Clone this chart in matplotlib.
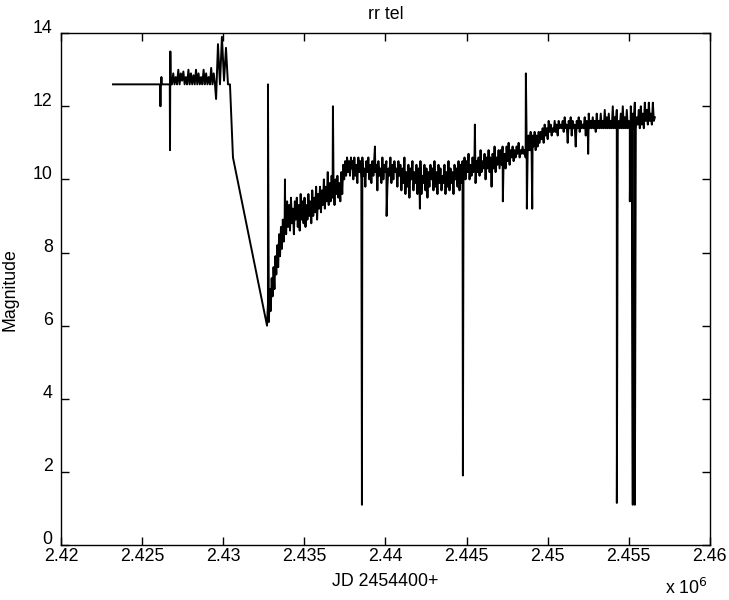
import numpy as np
import matplotlib.pyplot as plt
from matplotlib.transforms import ScaledTranslation

plt.rcParams['font.family'] = ['Liberation Sans', 'DejaVu Sans']

JD0 = 2.42e6

# ---- light curve of rr tel (days after 2.42e6, magnitude) ----
# early flat part, sparse points
early_jd = [3205, 6100, 6130, 6160, 6190, 6220, 6690, 6705, 6720, 6740, 6760]
early_mag = [12.6, 12.6, 12.0, 12.6, 12.8, 12.6, 12.6, 12.6, 10.8, 13.5, 12.6]

# noisy plateau before the fade (6841 .. 9492)
plateau_mag = [12.6, 12.9, 12.6, 12.8, 12.6, 13.0, 12.6, 12.9, 12.7, 12.95,
               12.6, 12.8, 12.6, 13.0, 12.6, 12.9, 12.6, 12.85, 12.6, 13.0,
               12.6, 12.9, 12.6, 12.8, 12.6, 13.0, 12.6, 12.9, 12.6, 12.8,
               12.6, 13.05, 12.6, 12.9, 12.6]

# flare and the fade down to minimum
fade_jd = [9560, 9676, 9800, 9920, 10050, 10170, 10293, 10416, 10601, 12696]
fade_mag = [12.2, 13.7, 12.6, 13.9, 12.7, 13.6, 12.6, 12.6, 10.6, 6.0]

# recovery from minimum (12700 .. 13806)
rise_mag = [6.0, 6.6, 6.1, 7.0, 6.4, 7.3, 6.8, 7.6, 7.0, 7.9,
            7.4, 8.2, 7.6, 8.5, 7.9, 8.7, 8.1, 8.9, 8.3, 9.0]

# slow brightening (13806 .. 17935)
slow_mag = [9.2, 8.5, 9.4, 8.7, 9.3, 8.6, 9.5, 8.8, 9.2, 8.5,
            9.4, 8.9, 9.5, 8.7, 9.3, 8.6, 9.6, 8.9, 9.4, 8.8,
            9.5, 8.7, 9.3, 8.9, 9.6, 9.0, 9.4, 8.8, 9.7, 9.0,
            9.5, 9.1, 9.8, 8.9, 9.6, 9.2, 9.8, 9.1, 9.7, 9.3,
            10.0, 9.2, 9.8, 9.4, 10.2, 9.3, 9.9, 9.4, 10.1, 9.5,
            9.9, 9.3, 10.0, 9.6, 10.1, 9.5, 9.9, 9.4, 10.2, 9.6,
            10.4, 10.0, 10.5, 10.1, 10.6, 10.2, 10.5, 10.1, 10.6, 10.3]

# long plateau (17935 .. 36610)
late_mag = [10.5, 10.0, 10.6, 10.1, 10.4, 9.9, 10.6, 10.2, 10.5, 10.0,
            10.6, 10.1, 10.3, 9.8, 10.5, 10.2, 10.6, 10.0, 10.4, 9.9,
            10.5, 10.1, 10.6, 10.2, 10.4, 9.7, 10.5, 10.1, 10.3, 9.9,
            10.6, 10.0, 10.4, 10.2, 10.5, 9.8, 10.3, 10.1, 10.6, 9.9,
            10.4, 10.0, 10.5, 10.2, 10.3, 9.8, 10.5, 10.1,
            10.4, 9.7, 10.3, 9.9, 10.6, 9.6, 10.2, 9.8, 10.4, 9.5,
            10.3, 10.0, 10.5, 9.7, 10.2, 9.9, 10.4, 9.6, 10.3, 9.8,
            10.5, 9.6, 10.1, 9.9, 10.4, 9.7, 10.3, 9.5, 10.2, 9.8,
            10.4, 10.0, 10.3, 9.7, 10.5, 9.8, 10.2, 9.6, 10.4, 9.9,
            10.3, 9.7, 10.1, 9.9, 10.4, 9.6, 10.2, 9.8, 10.5, 9.7,
            10.3, 9.9, 10.2, 9.6, 10.4, 10.0, 10.3, 9.8, 10.5, 9.7,
            10.4, 9.9, 10.5, 10.1, 10.6, 10.0, 10.5, 10.2, 10.7, 10.0,
            10.4, 10.1, 10.6, 10.2, 10.7, 9.9, 10.5, 10.2, 10.6, 10.1,
            10.8, 10.2, 10.5, 10.3, 10.7, 10.0, 10.6, 10.3, 10.8, 10.2,
            10.6, 9.8, 10.7, 10.3, 10.9, 10.2, 10.6, 10.4, 10.8, 10.3,
            10.8, 10.4, 10.9, 10.5, 10.7, 10.3, 10.9, 10.5, 11.0, 10.4,
            10.8, 10.6, 10.9, 10.5, 10.8, 10.6, 10.9, 10.7, 11.0, 10.6,
            10.8, 10.7, 10.9, 10.7, 10.8, 10.6, 11.1, 10.7, 11.2, 10.8,
            11.3, 10.7, 11.2, 10.9, 11.3, 10.8, 11.2, 10.9, 11.3, 11.0,
            11.3, 11.1, 11.4, 11.0, 11.5, 11.2, 11.4, 11.1, 11.6, 11.3,
            11.5, 11.2, 11.4, 11.3, 11.6, 11.3, 11.5, 11.2, 11.6, 11.4,
            11.5, 11.4, 11.6, 11.3, 11.7, 11.4, 11.5, 11.0, 11.6, 11.4,
            11.7, 11.2, 11.6, 11.4, 11.5, 10.9, 11.6, 11.4, 11.7, 11.3,
            11.6, 11.4, 11.5, 11.4, 11.7, 11.2, 11.6, 11.4, 11.8, 11.4,
            11.6, 11.4, 11.7, 11.4, 11.6, 11.3, 11.8, 11.4, 11.6, 11.4,
            11.8, 11.4, 11.6, 11.4, 11.9, 11.4, 11.7, 11.4, 11.8, 11.4,
            11.6, 11.4, 12.0, 11.4, 11.7, 11.4, 11.9, 11.4, 11.6, 11.4,
            11.8, 11.4, 12.0, 11.4, 11.7, 11.4, 11.9, 11.4, 11.6, 11.5,
            12.0, 11.4, 11.8, 11.4, 12.1, 11.4, 11.7, 11.5, 11.9, 11.4,
            12.0, 11.5, 11.8, 11.4, 12.1, 11.6, 11.9, 11.5, 12.1, 11.6,
            11.8, 11.5, 12.1, 11.6, 11.7]

# single outlying measurements
spike_jd = [12758, 13806, 16764, 18552, 19353, 20074, 22126, 24777, 25516,
            27240, 28659, 28720, 29050, 32500, 34268, 35069, 35250, 35380]
spike_mag = [12.6, 10.0, 12.0, 1.1, 10.9, 9.0, 9.2, 1.9, 11.5,
             9.4, 12.9, 9.2, 9.2, 10.7, 1.15, 9.4, 1.1, 1.1]

jd = np.concatenate([early_jd,
                     np.linspace(6841, 9492, len(plateau_mag)),
                     fade_jd,
                     np.linspace(12700, 13790, len(rise_mag)),
                     np.linspace(13820, 17935, len(slow_mag)),
                     np.linspace(17960, 36610, len(late_mag)),
                     spike_jd])
mag = np.concatenate([early_mag, plateau_mag, fade_mag, rise_mag,
                      slow_mag, late_mag, spike_mag])
order = np.argsort(jd, kind='stable')
jd = jd[order] + JD0
mag = mag[order]

fig = plt.figure(figsize=(7.29, 6.0), dpi=100)
ax = fig.add_axes([0.0837, 0.0917, 0.890, 0.853])
ax.plot(jd, mag, color='k', lw=1.4)

ax.set_xlim(2.42e6, 2.46e6)
ax.set_ylim(0, 14)
ax.set_xticks(np.arange(2.42e6, 2.4601e6, 5000))
ax.set_xticklabels(['2.42', '2.425', '2.43', '2.435', '2.44', '2.445',
                    '2.45', '2.455', '2.46'])
ax.set_yticks(range(0, 15, 2))
ax.tick_params(direction='in', top=True, right=True, length=5.5,
               width=1, labelsize=12.8)
ax.tick_params(axis='x', pad=2)
ax.tick_params(axis='y', pad=6)
for s in ax.spines.values():
    s.set_linewidth(1)
# matlab puts the y labels a little above their ticks
for lab in ax.get_yticklabels():
    lab.set_transform(lab.get_transform() +
                      ScaledTranslation(0, 0.07, fig.dpi_scale_trans))

ax.set_title('rr tel', fontsize=12.8, pad=10)
ax.set_xlabel('JD 2454400+', fontsize=12.8, labelpad=6)
ax.set_ylabel('Magnitude', fontsize=12.8, labelpad=10)
fig.text(0.912, 0.010, r'x 10$^{6}$', fontsize=12.8)

fig.savefig('out.png', dpi=100)
